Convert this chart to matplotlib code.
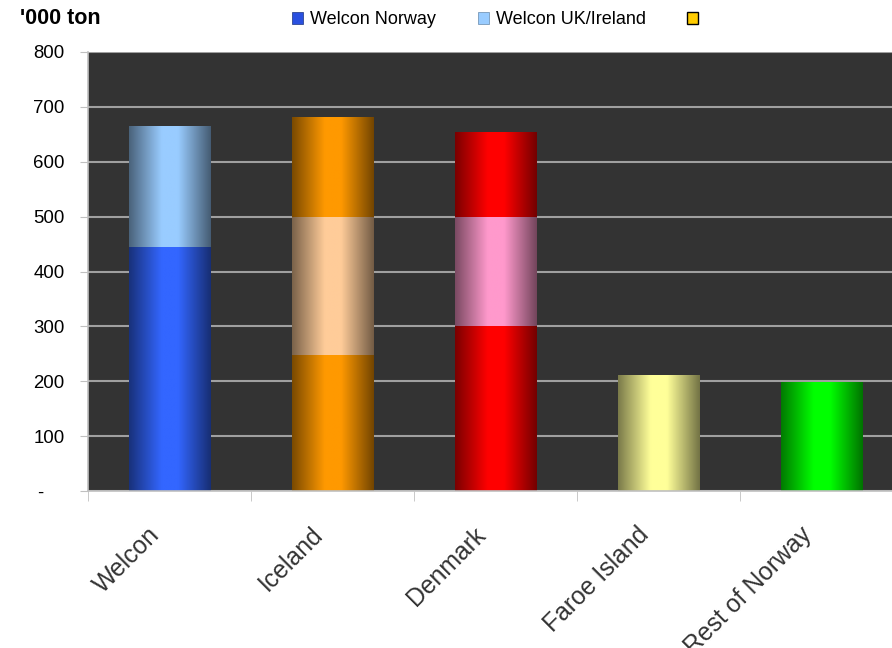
import numpy as np
import matplotlib.pyplot as plt
import matplotlib.transforms as mtransforms
from matplotlib.patches import Patch
from matplotlib.colors import to_rgb

plt.rcParams['font.family'] = ['Liberation Sans', 'DejaVu Sans']

# data ('000 ton)
categories = ['Welcon', 'Iceland', 'Denmark', 'Faroe Island', 'Rest of Norway']
seg_bottom = [444, 248, 300, 211, 197]
seg_middle = [219, 252, 200, 0, 0]
seg_top = [0, 182, 154, 0, 0]

col_bottom = ['#3366ff', '#ff9900', '#ff0000', '#ffff99', '#00ff00']
col_middle = ['#99ccff', '#ffcc99', '#ff99cc', '#ffff99', '#00ff00']
col_top = ['#99ccff', '#ff9900', '#ff0000', '#ffff99', '#00ff00']

yticks = [0, 100, 200, 300, 400, 500, 600, 700, 800]
ylabels = ['-    ', '100', '200', '300', '400', '500', '600', '700', '800']

# horizontal shading profile: dark edges, bright middle
t = np.linspace(0, 1, 200)
shade = np.interp(t, [0, 0.4, 0.6, 1], [0.48, 1.0, 1.0, 0.45])


def grad_bar(ax, x, bottom, height, color, width=0.5):
    if height <= 0:
        return
    rgb = np.array(to_rgb(color))
    img = (shade[:, None] * rgb[None, :])[None, :, :]
    ax.imshow(img, extent=[x - width / 2, x + width / 2, bottom, bottom + height],
              aspect='auto', interpolation='bilinear', zorder=2)


fig = plt.figure(figsize=(8.92, 6.48), dpi=100)
ax = fig.add_axes([88 / 892, 157 / 648, 804 / 892, 439 / 648])
ax.set_facecolor('#333333')

x = np.arange(len(categories))
for i in x:
    b = 0
    for seg, cols in [(seg_bottom, col_bottom), (seg_middle, col_middle), (seg_top, col_top)]:
        grad_bar(ax, i, b, seg[i], cols[i])
        b += seg[i]

ax.set_xlim(-0.5, -0.5 + 804 / 163)
ax.set_ylim(0, 800)

ax.set_yticks(yticks)
ax.set_yticklabels(ylabels, fontsize=13.4)
ax.yaxis.grid(True, color='#a0a0a0', linewidth=1.5, zorder=1)
ax.set_axisbelow(True)
ax.tick_params(axis='y', length=6, color='#c0c0c0', pad=11)

ax.set_xticks(x)
ax.set_xticklabels(categories, rotation=45, ha='right', rotation_mode='anchor',
                   fontsize=17.8, color='#333333')
ax.tick_params(axis='x', which='major', length=0, pad=22)
ax.set_xticks(x - 0.5, minor=True)
ax.tick_params(axis='x', which='minor', length=7, color='#c0c0c0')
shift = mtransforms.ScaledTranslation(-22 / 100, -1 / 100, fig.dpi_scale_trans)
for lab in ax.get_xticklabels():
    lab.set_transform(lab.get_transform() + shift)

for s in ['top', 'right']:
    ax.spines[s].set_visible(False)
for s in ['left', 'bottom']:
    ax.spines[s].set_color('#c0c0c0')
    ax.spines[s].set_linewidth(1.2)

fig.text(20 / 892, 1 - 18 / 648, "'000 ton", fontsize=15.5, fontweight='bold', va='center')

handles = [Patch(facecolor='#2a50e0', edgecolor='#1a3380', linewidth=0.5),
           Patch(facecolor='#99ccff', edgecolor='#6688aa', linewidth=0.5),
           Patch(facecolor='#ffcc00', edgecolor='black', linewidth=1)]
fig.legend(handles, ['Welcon Norway', 'Welcon UK/Ireland', ''], ncol=3,
           loc='center left', bbox_to_anchor=(292 / 892, 1 - 20 / 648),
           frameon=False, fontsize=13, handlelength=0.61, handleheight=0.61,
           handletextpad=0.4, columnspacing=2.3, borderpad=0, borderaxespad=0)

fig.savefig('out.png', dpi=100)
